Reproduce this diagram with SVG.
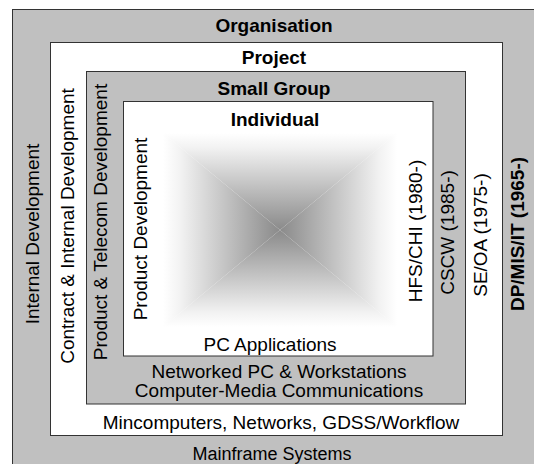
<svg xmlns="http://www.w3.org/2000/svg" width="534" height="464" viewBox="0 0 534 464">
  <style>
    .frame { stroke: #333; stroke-width: 1; }
    .grey { fill: #c0c0c0; }
    .white { fill: #ffffff; }
    text { font-family: "Liberation Sans", Arial, sans-serif; font-size: 19px; fill: #000; text-anchor: middle; }
    .b { font-weight: bold; }
  </style>
  <defs>
    <linearGradient id="gTop" gradientUnits="userSpaceOnUse" x1="0" y1="133" x2="0" y2="230">
      <stop offset="0" stop-color="#ffffff"/>
      <stop offset="0.15" stop-color="#f2f2f2"/>
      <stop offset="1" stop-color="#8a8a8a"/>
    </linearGradient>
    <linearGradient id="gBot" gradientUnits="userSpaceOnUse" x1="0" y1="327" x2="0" y2="230">
      <stop offset="0" stop-color="#ffffff"/>
      <stop offset="0.15" stop-color="#f2f2f2"/>
      <stop offset="1" stop-color="#8a8a8a"/>
    </linearGradient>
    <linearGradient id="gLeft" gradientUnits="userSpaceOnUse" x1="163" y1="0" x2="280" y2="0">
      <stop offset="0" stop-color="#ffffff"/>
      <stop offset="0.15" stop-color="#f2f2f2"/>
      <stop offset="1" stop-color="#8a8a8a"/>
    </linearGradient>
    <linearGradient id="gRight" gradientUnits="userSpaceOnUse" x1="397" y1="0" x2="280" y2="0">
      <stop offset="0" stop-color="#ffffff"/>
      <stop offset="0.15" stop-color="#f2f2f2"/>
      <stop offset="1" stop-color="#8a8a8a"/>
    </linearGradient>
  </defs>
  <rect width="534" height="464" fill="#ffffff"/>

  <g id="organisation">
    <rect class="grey frame" x="12.5" y="9.5" width="540" height="470"/>
    <text class="b" x="274" y="31.5">Organisation</text>
    <text transform="translate(38.5,234) rotate(-90)">Internal Development</text>
    <text class="b" transform="translate(524,234) rotate(-90)">DP/MIS/IT (1965-)</text>
    <text x="272" y="460" style="font-size:18px">Mainframe Systems</text>
  </g>

  <g id="project">
    <rect class="white frame" x="50.5" y="42.5" width="452" height="393"/>
    <text class="b" x="274" y="63.5">Project</text>
    <text transform="translate(73.5,226) rotate(-90)">Contract &amp; Internal Development</text>
    <text transform="translate(487,235) rotate(-90)">SE/OA (1975-)</text>
    <text x="281" y="429">Mincomputers, Networks, GDSS/Workflow</text>
  </g>

  <g id="small-group">
    <rect class="grey frame" x="86.5" y="71.5" width="379" height="332.5"/>
    <text class="b" x="274" y="95">Small Group</text>
    <text transform="translate(107,222) rotate(-90)">Product &amp; Telecom Development</text>
    <text transform="translate(454,232.5) rotate(-90)">CSCW (1985-)</text>
    <text x="279" y="377.5">Networked PC &amp; Workstations</text>
    <text x="279" y="397">Computer-Media Communications</text>
  </g>

  <g id="individual">
    <rect class="white frame" x="123.5" y="101.5" width="309.5" height="254.5"/>
    <g id="gradient">
      <polygon points="163,133 397,133 280,230" fill="url(#gTop)"/>
      <polygon points="163,327 397,327 280,230" fill="url(#gBot)"/>
      <polygon points="163,133 163,327 280,230" fill="url(#gLeft)"/>
      <polygon points="397,133 397,327 280,230" fill="url(#gRight)"/>
    </g>
    <text class="b" x="275" y="125.5">Individual</text>
    <text transform="translate(147,229) rotate(-90)">Product Development</text>
    <text transform="translate(421.5,231) rotate(-90)">HFS/CHI (1980-)</text>
    <text x="270" y="351">PC Applications</text>
  </g>

  <g id="connectors"/>
</svg>
